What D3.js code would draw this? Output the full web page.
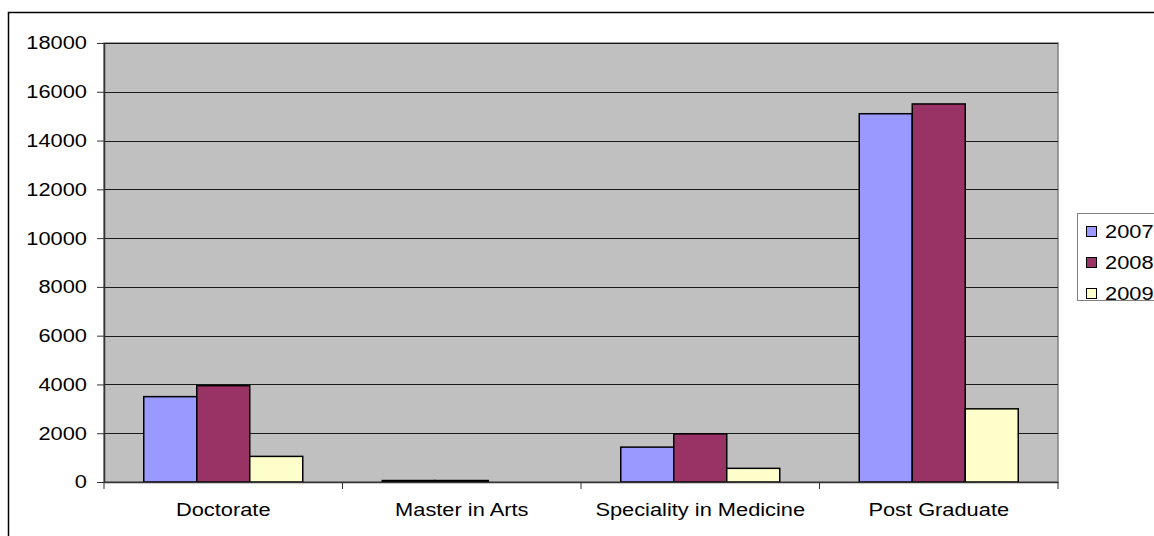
<!DOCTYPE html>
<html>
<head>
<meta charset="utf-8">
<script src="https://cdn.jsdelivr.net/npm/d3@7"></script>
<style>
  body { margin: 0; background: #fff; }
  svg { display: block; font-family: "Liberation Sans", Arial, sans-serif; }
</style>
</head>
<body>
<svg id="chart" width="1154" height="536"></svg>
<script>
// Données
const categories = ["Doctorate", "Master in Arts", "Speciality in Medicine", "Post Graduate"];
const years = ["2007", "2008", "2009"];
const values2007 = [3500, 60, 1430, 15100];
const values2008 = [3950, 60, 1975, 15500];
const values2009 = [1050, 0, 560, 3000];
const yTicks = [0, 2000, 4000, 6000, 8000, 10000, 12000, 14000, 16000, 18000];
const colors = ["#9999ff", "#993366", "#ffffcc"];

const series = [values2007, values2008, values2009];

const width = 1154;
const height = 536;
const margin = { top: 43, right: 96, bottom: 54, left: 104 };
const fontSize = 18.5;
const stretch = 1.18; // le texte de l'original est un peu étiré en largeur

const svg = d3.select("#chart");

// Cadre du graphique
svg.append("rect")
  .attr("x", 8.5).attr("y", 12.5)
  .attr("width", 1160).attr("height", 540)
  .attr("fill", "none").attr("stroke", "#000").attr("stroke-width", 1.5);

const x = d3.scaleBand()
  .domain(categories)
  .range([margin.left, width - margin.right]);

// Excel : largeur d'intervalle 150 %
const barW = x.bandwidth() / 4.5;
const xs = d3.scaleBand().domain(years).range([0.75 * barW, 3.75 * barW]);

const y = d3.scaleLinear()
  .domain([0, 18000])
  .range([height - margin.bottom, margin.top]);

// Zone de traçage
svg.append("rect")
  .attr("x", margin.left).attr("y", margin.top)
  .attr("width", width - margin.right - margin.left)
  .attr("height", y(0) - margin.top)
  .attr("fill", "#c0c0c0")
  .attr("stroke", "#808080").attr("stroke-width", 1.5);

// Quadrillage
svg.append("g")
  .selectAll("line")
  .data(yTicks.slice(1))
  .join("line")
  .attr("x1", margin.left).attr("x2", width - margin.right)
  .attr("y1", (d) => Math.round(y(d)) + 0.5).attr("y2", (d) => Math.round(y(d)) + 0.5)
  .attr("stroke", "#1a1a1a").attr("stroke-width", 1);

// Barres
svg.append("g")
  .selectAll("g")
  .data(series)
  .join("g")
  .attr("fill", (d, i) => colors[i])
  .selectAll("rect")
  .data((d, i) => d.map((v, j) => ({ cat: categories[j], year: years[i], v })))
  .join("rect")
  .attr("x", (d) => x(d.cat) + xs(d.year))
  .attr("width", xs.bandwidth())
  .attr("y", (d) => y(d.v))
  .attr("height", (d) => y(0) - y(d.v))
  .attr("stroke", (d) => (d.v > 0 ? "#000" : "none"))
  .attr("stroke-width", 1.5);

// Axe Y
const yAxis = svg.append("g")
  .attr("transform", `translate(${margin.left},0)`)
  .call(d3.axisLeft(y).tickValues(yTicks).tickFormat(d3.format("d")).tickSize(7).tickSizeOuter(0));
yAxis.select(".domain").attr("stroke", "#333").attr("stroke-width", 1.5);
yAxis.selectAll(".tick line").attr("stroke", "#333");
yAxis.selectAll(".tick text")
  .attr("font-size", fontSize).attr("fill", "#000")
  .attr("x", 0)
  .attr("transform", `translate(-17,0) scale(${stretch},1)`);

// Axe X
const xAxis = svg.append("g")
  .attr("transform", `translate(0,${y(0)})`)
  .call(d3.axisBottom(x).tickSize(0).tickSizeOuter(0));
xAxis.select(".domain").attr("stroke", "#333").attr("stroke-width", 1.5);
xAxis.selectAll(".tick text")
  .attr("font-size", fontSize).attr("fill", "#000")
  .attr("y", 0)
  .attr("transform", `translate(0,20.5) scale(${stretch},1)`);

// Graduations entre catégories
svg.append("g")
  .selectAll("line")
  .data(d3.range(categories.length + 1))
  .join("line")
  .attr("x1", (i) => margin.left + i * x.step())
  .attr("x2", (i) => margin.left + i * x.step())
  .attr("y1", y(0)).attr("y2", y(0) + 7)
  .attr("stroke", "#333");

// Légende
const legend = svg.append("g").attr("transform", "translate(1077,213)");
legend.append("rect")
  .attr("x", 0.5).attr("y", 0.5)
  .attr("width", 110).attr("height", 87)
  .attr("fill", "#fff").attr("stroke", "#808080");

const item = legend.selectAll("g.item")
  .data(years)
  .join("g")
  .attr("class", "item")
  .attr("transform", (d, i) => `translate(9,${19 + i * 31})`);
item.append("rect")
  .attr("x", 0.5).attr("y", -5.5)
  .attr("width", 10).attr("height", 10)
  .attr("fill", (d, i) => colors[i])
  .attr("stroke", "#000");
item.append("text")
  .attr("dy", "0.35em")
  .attr("font-size", fontSize)
  .attr("transform", `translate(19,0) scale(${stretch},1)`)
  .text((d) => d);
</script>
</body>
</html>
